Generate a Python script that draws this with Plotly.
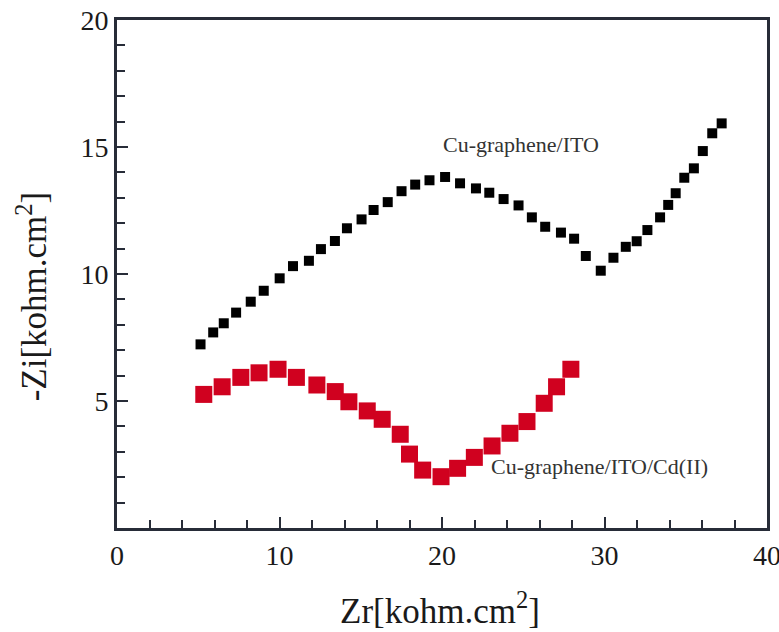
import plotly.graph_objects as go

# Nyquist data, Cu-graphene/ITO electrode
zr_ito = [5.14, 5.92, 6.57, 7.33, 8.23, 9.03, 10.01, 10.83, 11.81, 12.55, 13.41,
          14.15, 15.05, 15.79, 16.66, 17.51, 18.35, 19.23, 20.19, 21.11, 22.09,
          22.91, 23.79, 24.71, 25.53, 26.35, 27.32, 28.13, 28.85, 29.77, 30.55,
          31.31, 31.98, 32.64, 33.42, 33.92, 34.38, 34.91, 35.50, 36.05, 36.63, 37.21]
zi_ito = [7.23, 7.70, 8.06, 8.48, 8.91, 9.34, 9.83, 10.31, 10.52, 10.98, 11.30,
          11.80, 12.15, 12.52, 12.83, 13.26, 13.52, 13.69, 13.82, 13.57, 13.37,
          13.20, 12.95, 12.70, 12.23, 11.86, 11.63, 11.39, 10.71, 10.13, 10.64,
          11.07, 11.29, 11.73, 12.23, 12.72, 13.18, 13.79, 14.16, 14.84, 15.54, 15.93]

# Nyquist data, Cu-graphene/ITO electrode after Cd(II)
zr_cd = [5.34, 6.47, 7.62, 8.74, 9.91, 11.04, 12.30, 13.43, 14.27, 15.40, 16.32,
         17.43, 18.00, 18.81, 19.94, 20.96, 21.99, 23.08, 24.18, 25.23, 26.29,
         27.05, 27.93]
zi_cd = [5.26, 5.56, 5.93, 6.11, 6.25, 5.93, 5.63, 5.37, 4.97, 4.61, 4.28,
         3.69, 2.91, 2.28, 2.02, 2.35, 2.78, 3.23, 3.73, 4.19, 4.91,
         5.56, 6.25]

x_ticks = [0, 10, 20, 30, 40]
y_ticks = [5, 10, 15, 20]

SERIF = "Liberation Serif, Times New Roman, serif"
AXIS = "#272c38"

fig = go.Figure()
fig.add_trace(go.Scatter(
    x=zr_ito, y=zi_ito, mode="markers",
    marker=dict(symbol="square", size=10, color="#000000", line=dict(width=0)),
    showlegend=False, cliponaxis=False,
))
fig.add_trace(go.Scatter(
    x=zr_cd, y=zi_cd, mode="markers",
    marker=dict(symbol="square", size=17, color="#d0011f", line=dict(width=0)),
    showlegend=False, cliponaxis=False,
))

axis_common = dict(
    showline=True, linecolor=AXIS, linewidth=3, mirror=True,
    showgrid=False, zeroline=False, automargin=False,
    ticks="inside", tickcolor=AXIS, tickwidth=2, ticklen=11,
    ticklabeloverflow="allow",
    tickfont=dict(family=SERIF, size=28, color="#1a1a1a"),
)

fig.update_xaxes(
    range=[0, 40], tickmode="array", tickvals=x_ticks,
    minor=dict(ticks="inside", dtick=2, tick0=0, ticklen=8, tickwidth=2, tickcolor=AXIS),
    **axis_common,
)
fig.update_yaxes(
    range=[0, 20], tickmode="array", tickvals=y_ticks,
    minor=dict(ticks="inside", dtick=1, tick0=0, ticklen=8, tickwidth=2, tickcolor=AXIS),
    **axis_common,
)

fig.add_annotation(x=24.85, y=15.08, xref="x", yref="y", text="Cu-graphene/ITO",
                   showarrow=False, font=dict(family=SERIF, size=22, color="#333333"))
fig.add_annotation(x=29.7, y=2.44, xref="x", yref="y", text="Cu-graphene/ITO/Cd(II)",
                   showarrow=False, font=dict(family=SERIF, size=22, color="#333333"))

# axis titles
fig.add_annotation(x=0.497, y=-0.158, xref="paper", yref="paper", yanchor="middle",
                   text="Zr[kohm.cm<sup>2</sup>]", showarrow=False,
                   font=dict(family=SERIF, size=35, color="#1a1a1a"))
fig.add_annotation(x=-0.13, y=0.455, xref="paper", yref="paper", xanchor="center",
                   yanchor="middle", textangle=-90,
                   text="-Zi[kohm.cm<sup>2</sup>]", showarrow=False,
                   font=dict(family=SERIF, size=35, color="#1a1a1a"))

fig.update_layout(
    width=779, height=632,
    margin=dict(l=117, r=12, t=20, b=104, autoexpand=False),
    plot_bgcolor="white", paper_bgcolor="white",
)

fig.write_html("out.html")
